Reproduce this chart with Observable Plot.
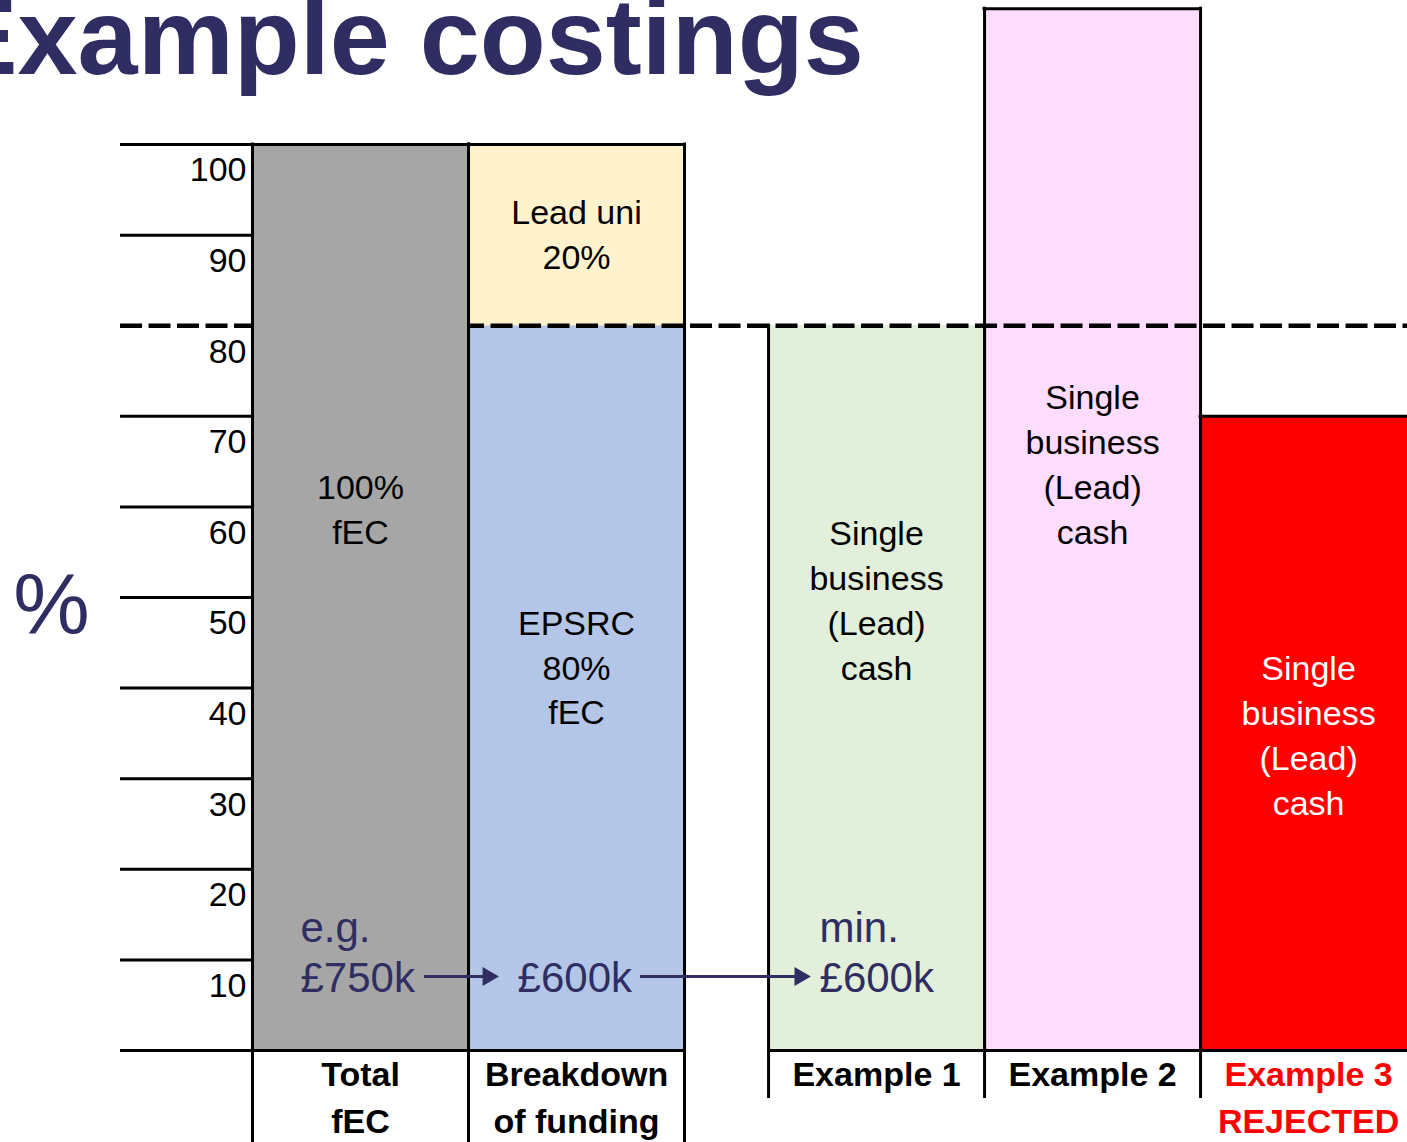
<!DOCTYPE html>
<html>
<head>
<meta charset="utf-8">
<script src="https://cdn.jsdelivr.net/npm/d3@7"></script>
<script src="https://cdn.jsdelivr.net/npm/@observablehq/plot@0.6"></script>
<style>
  html, body { margin: 0; padding: 0; background: white; overflow: hidden; }
  #chart svg { display: block; }
</style>
</head>
<body>
<div id="chart"></div>
<script>
// ---- Data ----
const categories = ["Total fEC", "Breakdown of funding", "Example 1", "Example 2", "Example 3"];
const categoryLabels = ["Total\nfEC", "Breakdown\nof funding", "Example 1", "Example 2", "Example 3\nREJECTED"];
const categoryLabelColors = ["#000000", "#000000", "#000000", "#000000", "#ff0000"];

const segCategory = ["Total fEC", "Breakdown of funding", "Breakdown of funding", "Example 1", "Example 2", "Example 3"];
const segBase     = [0, 0, 80, 0, 0, 0];
const segTop      = [100, 80, 100, 80, 115, 70];
const segFill     = ["#a6a6a6", "#b4c6e7", "#fff2cc", "#e2efda", "#fddcfd", "#ff0000"];
const segLabel    = ["100%\nfEC", "EPSRC\n80%\nfEC", "Lead uni\n20%",
                     "Single\nbusiness\n(Lead)\ncash", "Single\nbusiness\n(Lead)\ncash", "Single\nbusiness\n(Lead)\ncash"];
const segLabelY   = [59.6, 42.2, 90, 49.6, 64.6, 34.7];
const segLabelColor = ["#000000", "#000000", "#000000", "#000000", "#000000", "#ffffff"];

const yTicks = [0, 10, 20, 30, 40, 50, 60, 70, 80, 90, 100];
const yTickLabels = ["10", "20", "30", "40", "50", "60", "70", "80", "90", "100"];
const threshold = 80;

const noteText = ["e.g.\n£750k", "£600k", "min.\n£600k"];
const noteCategory = ["Total fEC", "Breakdown of funding", "Example 1"];
const noteOffset = [0.222, 0.227, 0.236];
const noteY = [10.76, 7.95, 10.76];

const arrowFromCat = ["Total fEC", "Breakdown of funding"];
const arrowFromOff = [0.796, 0.796];
const arrowToCat = ["Breakdown of funding", "Example 1"];
const arrowToOff = [0.139, 0.194];
const arrowY = 8.17;

const titleText = "Example costings";
const axisUnit = "%";

// ---- Layout helpers ----
const GAP = 0.389; // gap between the funding group and the examples (in bar widths)
const slot = c => { const i = categories.indexOf(c); return i + (i >= 2 ? GAP : 0); };
const xMin = -1.1667, xMax = 5.347, axisLeft = -0.611;
const navy = "#2f2d62";
const font = "'Liberation Sans', Arial, Helvetica, sans-serif";

const segs = segCategory.map((c, i) => ({
  cat: c, x1: slot(c), x2: slot(c) + 1, y1: segBase[i], y2: segTop[i], fill: segFill[i],
  label: segLabel[i], ly: segLabelY[i], lc: segLabelColor[i], xc: slot(c) + 0.5
}));
const firstCat = categories[0];
const backSegs = segs.filter(s => s.cat !== firstCat);
const frontSegs = segs.filter(s => s.cat === firstCat);
const cats = categories.map((c, i) => ({x: slot(c) + 0.5, label: categoryLabels[i], color: categoryLabelColors[i]}));
const tickLab = yTickLabels.map(t => ({y: +t, t}));
const bigSeps = [slot(categories[0]), slot(categories[1]), slot(categories[1]) + 1];
const smallSeps = [slot(categories[2]), slot(categories[3]), slot(categories[4])];
const notes = noteText.map((t, i) => ({x: slot(noteCategory[i]) + noteOffset[i], y: noteY[i], t}));
const arrows = arrowFromCat.map((c, i) => ({x1: slot(c) + arrowFromOff[i], x2: slot(arrowToCat[i]) + arrowToOff[i], y: arrowY}));

// bar fills + outlines (tops lying on the threshold are left to the dashed line)
function barMarks(data) {
  const sides = data.flatMap(s => [{x: s.x1, y1: s.y1, y2: s.y2}, {x: s.x2, y1: s.y1, y2: s.y2}]);
  const tops = data.filter(s => s.y2 !== threshold).map(s => ({x1: s.x1, x2: s.x2, y: s.y2}));
  const bottoms = data.filter(s => s.y1 === 0).map(s => ({x1: s.x1, x2: s.x2, y: s.y1}));
  return [
    Plot.rect(data, {x1: "x1", x2: "x2", y1: "y1", y2: "y2", fill: "fill"}),
    Plot.ruleX(sides, {x: "x", y1: "y1", y2: "y2", stroke: "#000", strokeWidth: 3, strokeLinecap: "square"}),
    Plot.ruleY(tops, {x1: "x1", x2: "x2", y: "y", stroke: "#000", strokeWidth: 3, strokeLinecap: "square"}),
    Plot.ruleY(bottoms, {x1: "x1", x2: "x2", y: "y", stroke: "#000", strokeWidth: 3})
  ];
}

const plot = Plot.plot({
  width: 1407,
  height: 1142,
  marginLeft: 0, marginRight: 0, marginTop: 0, marginBottom: 92,
  x: {type: "linear", domain: [xMin, xMax], axis: null},
  y: {type: "linear", domain: [0, 115.9], axis: null},
  style: {fontFamily: font, background: "white"},
  marks: [
    ...barMarks(backSegs),
    // dashed threshold line
    Plot.ruleY([threshold], {x1: axisLeft, x2: xMax, stroke: "#000", strokeWidth: 4.3, strokeDasharray: "22,6.5"}),
    ...barMarks(frontSegs),
    // axis grid lines in the label column
    Plot.ruleY(yTicks.filter(t => t !== threshold), {x1: axisLeft, x2: 0, stroke: "#000", strokeWidth: 3}),
    // vertical separators below the bars
    Plot.ruleX(bigSeps, {y1: 0, y2: -10.3, stroke: "#000", strokeWidth: 3}),
    Plot.ruleX(smallSeps, {y1: 0, y2: -5.3, stroke: "#000", strokeWidth: 3}),
    // tick labels
    Plot.text(tickLab, {x: 0, y: "y", text: "t", dx: -6, dy: 26, textAnchor: "end", lineAnchor: "middle",
      fontSize: 34, fill: "#000"}),
    // bar labels
    Plot.text(segs, {x: "xc", y: "ly", text: "label", fill: "lc", fontSize: 34, lineHeight: 1.32, dy: -3,
      textAnchor: "middle", lineAnchor: "middle"}),
    // category labels
    Plot.text(cats, {x: "x", y: 0, text: "label", fill: "color", fontSize: 34, fontWeight: "bold",
      lineHeight: 1.38, textAnchor: "middle", lineAnchor: "top", dy: 2}),
    // arrows
    Plot.ruleY(arrows, {x1: "x1", x2: d => d.x2 - 0.03, y: "y", stroke: navy, strokeWidth: 3}),
    Plot.dot(arrows, {x: "x2", y: "y", symbol: "triangle", r: 7, rotate: 90, dx: -10.5, fill: navy, stroke: "none"}),
    // notes
    Plot.text(notes, {x: "x", y: "y", text: "t", fill: navy, fontSize: 42, lineHeight: 1.19, dy: -2,
      textAnchor: "start", lineAnchor: "middle"}),
    // title & unit
    Plot.text([titleText], {frameAnchor: "top-left", dx: -55, dy: 73, lineAnchor: "bottom", textAnchor: "start",
      fontSize: 108, fontWeight: "bold", fill: navy}),
    Plot.text([axisUnit], {frameAnchor: "left", dx: 51, dy: 81, textAnchor: "middle", lineAnchor: "middle",
      fontSize: 86, fill: navy})
  ]
});
document.getElementById("chart").appendChild(plot);
</script>
</body>
</html>
